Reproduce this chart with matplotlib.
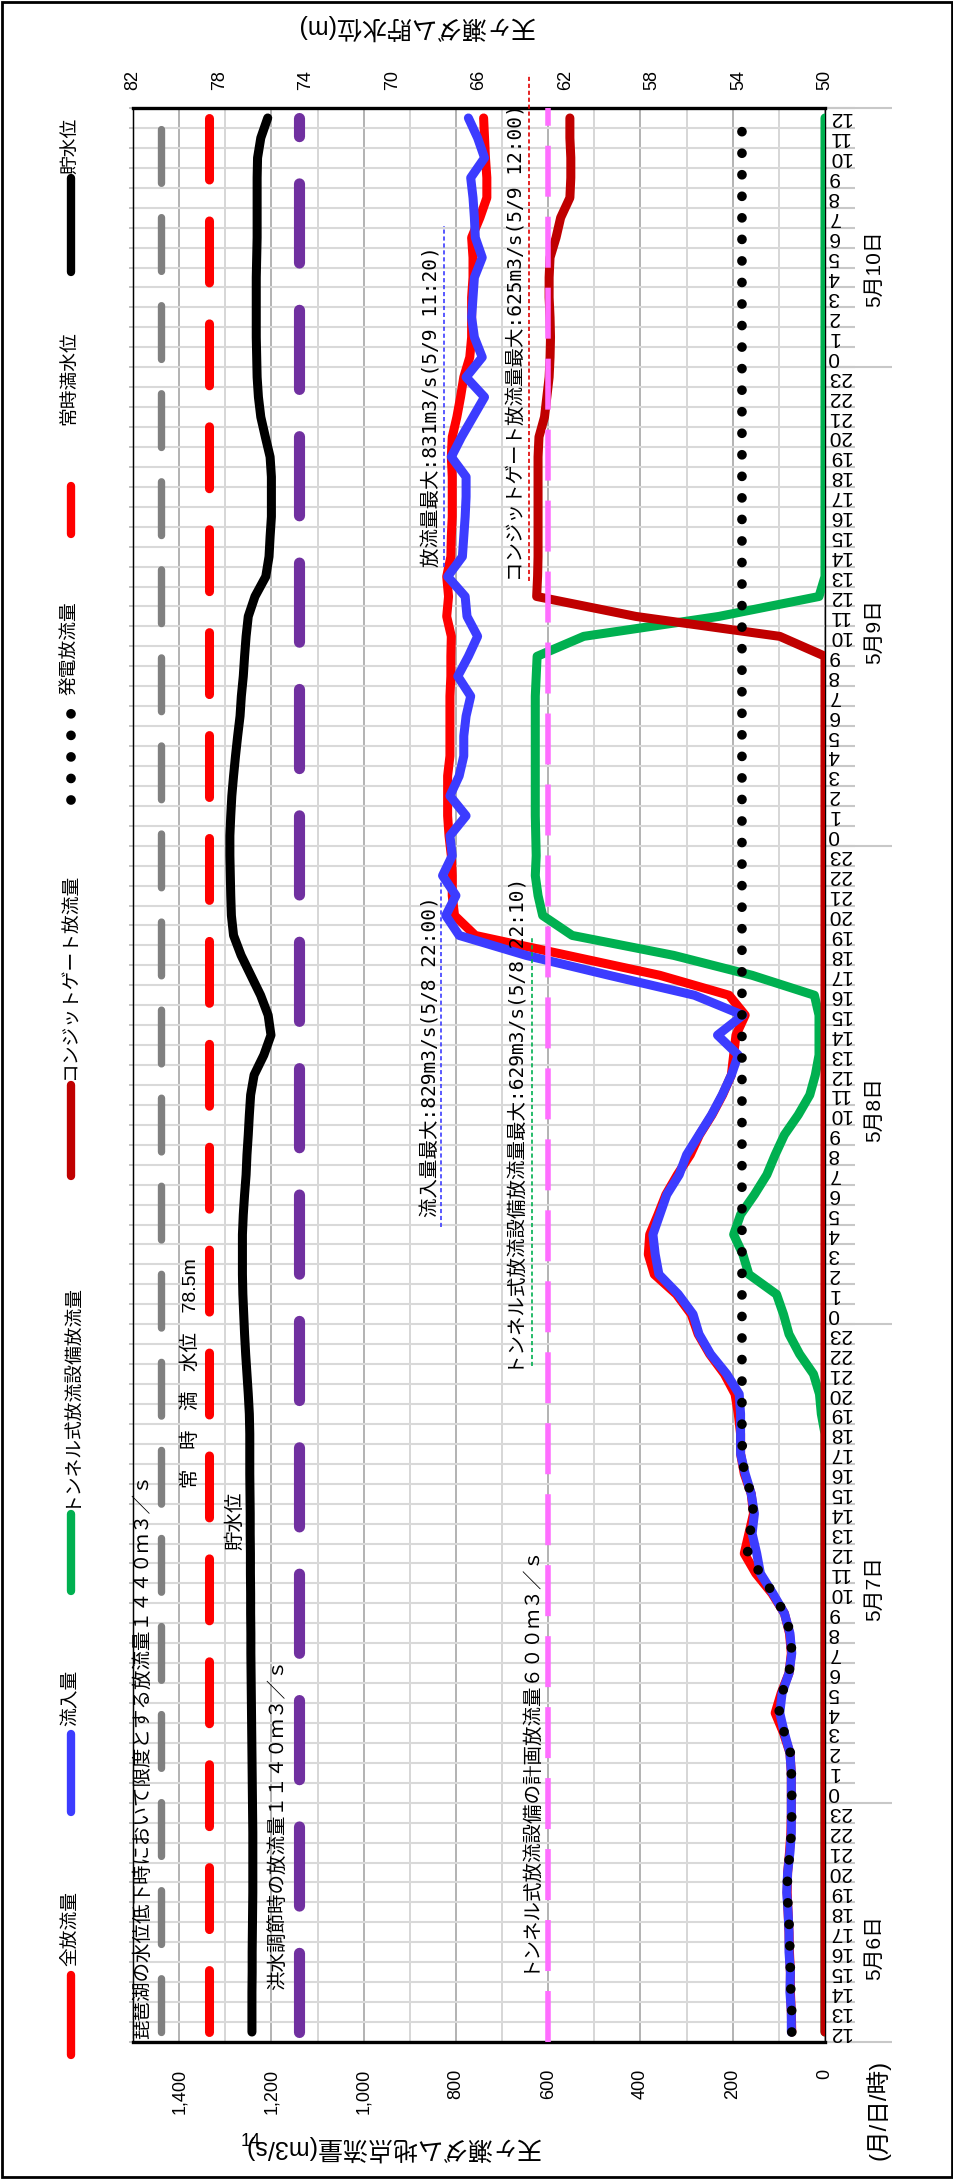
import numpy as np
import matplotlib
matplotlib.use('Agg')
import matplotlib.pyplot as plt
from matplotlib.lines import Line2D
from matplotlib.patches import Rectangle

plt.rcParams['font.family'] = ['Liberation Sans', 'Noto Sans CJK JP']
plt.rcParams['lines.scale_dashes'] = False

W, H, DPI = 954, 2179, 100

# time axis: hourly categories from 5/6 12:00 to 5/10 12:00
hours = np.arange(97)
hour_labels = [str((12 + h) % 24) for h in hours]
day_labels = ['5月6日', '5月7日', '5月8日', '5月9日', '5月10日']
day_bounds = [0, 12, 36, 60, 84, 97]

# 全放流量 (m3/s)
total = [72, 73, 75, 75, 77, 78, 80, 82, 81, 77, 74, 73, 73, 73, 76,
         90, 108, 95, 78, 73, 77, 88, 115, 150, 175, 165, 155, 160, 175, 183, 183,
         188, 195, 218, 250, 275, 290, 322, 370, 383, 380, 362, 345, 320, 292, 272,
         245, 222, 203, 198, 193,
         173, 208, 358, 558, 758, 803, 808, 808, 810, 815, 818, 818, 818,
         813, 813, 813, 813, 811, 811, 810, 820, 816, 820, 811, 810, 808, 808, 808,
         810, 808, 798, 790, 783, 770, 766, 766, 766, 763, 763, 766, 748, 733, 733,
         736, 738, 740]
# 流入量
inflow = [73, 73, 76, 75, 78, 78, 80, 83, 81, 76, 73, 73, 73, 73, 76,
          88, 98, 93, 78, 72, 76, 88, 113, 140, 148, 158, 153, 160, 173, 183, 183,
          183, 186, 213, 248, 273, 286, 318, 360, 368, 373, 358, 343, 316, 300, 273,
          246, 223, 203, 188, 233,
          178, 283, 468, 648, 793, 822, 800, 829, 808, 813, 778, 813, 793,
          783, 783, 778, 768, 796, 773, 753, 776, 780, 818, 786, 783, 780, 778, 778,
          810, 788, 763, 738, 778, 743, 760, 766, 763, 760, 743, 758, 760, 763, 768,
          738, 753, 773]
# トンネル式放流設備放流量
tunnel = [0] * 31 + [8, 12, 25, 55, 78, 90, 105, 165, 178, 198, 183, 153, 126, 108,
                     88, 58, 33, 21, 13, 13,
                     13, 23, 158, 328, 548, 612, 622, 628, 626, 627, 628, 628, 628,
                     628, 628, 628, 628, 626, 624, 523, 230, 13] + [0] * 24
# コンジットゲート放流量
conduit = [0] * 70 + [98, 410, 625, 623, 622, 622, 622, 622, 622, 622, 620, 608, 603,
                      598, 596, 595, 596, 598, 598, 596, 583, 573, 553, 551, 551, 553, 553]
# 発電放流量
power = [72, 72, 74, 75, 76, 77, 79, 82, 81, 76, 73, 72, 72, 73, 75,
         88, 100, 93, 78, 72, 75, 88, 113, 140, 168, 163, 155, 160,
         175, 179] + [180] * 67
# 貯水位 (m)
level = [76.50, 76.50, 76.50, 76.49, 76.49, 76.48, 76.47, 76.46, 76.46, 76.46, 76.46,
         76.47, 76.48, 76.49, 76.50, 76.51, 76.52, 76.53, 76.54, 76.55, 76.55, 76.56,
         76.56, 76.57, 76.57, 76.58, 76.58, 76.59, 76.60, 76.60, 76.60,
         76.62, 76.67, 76.73, 76.79, 76.84, 76.88, 76.92, 76.94, 76.94, 76.94, 76.90,
         76.84, 76.77, 76.73, 76.67, 76.62, 76.56, 76.40, 75.95, 75.62, 75.75, 76.10,
         76.55, 77.00, 77.35, 77.45, 77.48, 77.50, 77.52, 77.52, 77.48, 77.43, 77.35,
         77.26, 77.16, 77.05, 76.99, 76.90, 76.84, 76.77, 76.67, 76.36, 75.86, 75.71,
         75.66, 75.60, 75.60, 75.60, 75.66, 75.88, 76.09, 76.20, 76.26, 76.28, 76.30,
         76.30, 76.30, 76.30, 76.28, 76.26, 76.26, 76.26, 76.26, 76.24, 76.09, 75.77]

LIMIT_BIWA = 1440     # 琵琶湖の水位低下時において限度とする放流量
LIMIT_FLOOD = 1140    # 洪水調節時の放流量
TUNNEL_PLAN = 600     # トンネル式放流設備の計画放流量
NORMAL_LEVEL = 78.5   # 常時満水位

flow_ticks = list(range(0, 1401, 200))
level_ticks = [82, 78, 74, 70, 66, 62, 58, 54, 50]

y = hours + 0.5


def fx(px):
    return px / W


def fy(py):
    return 1 - py / H


fig = plt.figure(figsize=(W / DPI, H / DPI), dpi=DPI)
ax = fig.add_axes([fx(133), fy(2042), fx(825) - fx(133), fy(108) - fy(2042)])
ax.set_xlim(1500, 0)
ax.set_ylim(0, 97)

# flow axis (bottom)
ax.set_xticks(flow_ticks)
ax.set_xticklabels([f'{v:,}' for v in flow_ticks])
ax.set_xticks(list(range(100, 1500, 200)), minor=True)
ax.tick_params(axis='x', which='both', length=0, pad=19, labelsize=13, labelrotation=90)
ax.grid(axis='x', which='major', color='#A6A6A6', lw=1.2)
ax.grid(axis='x', which='minor', color='#D0D0D0', lw=1.2)

# time axis (right side)
ax.set_yticks(np.arange(98))
ax.set_yticks(y, minor=True)
ax.set_yticklabels(hour_labels, minor=True)
ax.set_yticklabels([])
ax.tick_params(axis='y', which='major', left=False, right=True, length=21.6, width=1.5,
               color='#C8C8C8', labelleft=False, labelright=False)
ax.tick_params(axis='y', which='minor', left=False, right=True, length=0,
               labelleft=False, labelright=True, pad=2, labelsize=15, labelrotation=180)
for lab in ax.get_yticklabels(minor=True):
    lab.set_va('center')
ax.grid(axis='y', which='major', color='#D9D9D9', lw=1.5)

secr = ax.secondary_yaxis('right')
secr.set_yticks(day_bounds)
secr.set_yticklabels([])
secr.set_yticks([(a + b) / 2 for a, b in zip(day_bounds[:-1], day_bounds[1:])], minor=True)
secr.set_yticklabels(day_labels, minor=True)
secr.tick_params(which='major', length=48, width=1.5, color='#C8C8C8')
secr.tick_params(which='minor', length=0, pad=29, labelsize=15, labelrotation=90)
secr.spines['right'].set_visible(False)

secl = ax.secondary_yaxis('left')
secl.set_yticks(np.arange(98))
secl.set_yticklabels([])
secl.tick_params(length=3, width=1.2, color='#BBBBBB')

for s in ['top', 'bottom']:
    ax.spines[s].set_linewidth(2.4)
for s in ['left', 'right']:
    ax.spines[s].set_linewidth(1)

# series
lw = 6.5
kw = dict(lw=lw, solid_joinstyle='round', solid_capstyle='round')
ax.plot(total, y, color='#FF0000', zorder=3, **kw)
ax.plot(inflow, y, color='#3C3CFF', zorder=3.1, **kw)
ax.plot(tunnel, y, color='#00B050', zorder=3.2, **kw)
ax.plot(conduit, y, color='#C00000', zorder=3.3, **kw)
ax.plot(power, y, color='black', lw=7, dashes=(0.01, 15.5), dash_capstyle='round', zorder=3.4)

ax.plot([LIMIT_BIWA] * len(y), y, color='#808080', lw=5.3, dashes=(38.7, 24.7),
        dash_capstyle='round', zorder=2.5)
ax.plot([LIMIT_FLOOD] * len(y), y, color='#7030A0', lw=8, dashes=(57, 34),
        dash_capstyle='round', zorder=2.5)
ax.axvline(TUNNEL_PLAN, color='#FF6EFF', lw=4, dashes=(36.7, 14.4), zorder=5)

# water level on the top axis
axl = ax.twiny()
axl.set_xlim(82, 50)
axl.set_xticks(level_ticks)
axl.tick_params(axis='x', length=0, pad=13, labelsize=13, labelrotation=90)
for s in axl.spines.values():
    s.set_visible(False)
axl.plot([NORMAL_LEVEL] * len(y), y, color='#FF0000', lw=6.5, dashes=(44.6, 29.5),
         dash_capstyle='round')
axl.plot(level, y, color='black', **kw)

# annotations inside the plot
mono = ['DejaVu Sans Mono', 'Noto Sans CJK JP']
notes = [
    ('琵琶湖の水位低下時において限度とする放流量１４４０ｍ３／ｓ', 1459, 0.15, None),
    ('洪水調節時の放流量１１４０ｍ３／ｓ', 1166, 2.6, None),
    ('トンネル式放流設備の計画放流量６００ｍ３／ｓ', 623, 3.5, None),
    ('常　時　満　水位　78.5m', 1354, 27.8, None),
    ('貯水位', 1259, 24.7, None),
    ('流入量最大:829m3/s(5/8 22:00)', 834, 41.4, mono),
    ('トンネル式放流設備放流量最大:629m3/s(5/8 22:10)', 642, 33.5, mono),
    ('放流量最大:831m3/s(5/9 11:20)', 831, 74.0, mono),
    ('コンジットゲート放流量最大:625m3/s(5/9 12:00)', 647, 73.3, mono),
]
for txt, xv, yv, fam in notes:
    extra = {'family': fam} if fam else {}
    ax.text(xv, yv, txt, rotation=90, ha='right', va='bottom', fontsize=14, zorder=6, **extra)

underlines = [
    (826, 74.0, 91.1, '#3C3CFF'),
    (832, 40.9, 58.6, '#3C3CFF'),
    (636, 33.9, 55.4, '#00B050'),
    (642, 73.3, 98.7, '#E00000'),
]
for xv, y0, y1, c in underlines:
    ax.plot([xv, xv], [y0, y1], color=c, lw=1.2, dashes=(3, 2), clip_on=False, zorder=6)

# legend (drawn along the left edge)
legend_items = [
    ('全放流量', '#FF0000', 'solid', 2055, 1975, 1966),
    ('流入量', '#3C3CFF', 'solid', 1812, 1734, 1726),
    ('トンネル式放流設備放流量', '#00B050', 'solid', 1591, 1514, 1507),
    ('コンジットゲート放流量', '#C00000', 'solid', 1176, 1085, 1080),
    ('発電放流量', 'black', 'dots', 800, 708, 695),
    ('常時満水位', '#FF0000', 'solid', 534, 486, 425),
    ('貯水位', 'black', 'solid', 272, 178, 174),
]
LX = 71
for name, c, style, m0, m1, t0 in legend_items:
    if style == 'dots':
        ln = Line2D([fx(LX)] * 2, [fy(m0), fy(m1)], transform=fig.transFigure, color=c,
                    lw=7, dashes=(0.01, 15.5), dash_capstyle='round')
    else:
        ln = Line2D([fx(LX)] * 2, [fy(m0), fy(m1)], transform=fig.transFigure, color=c,
                    lw=6, solid_capstyle='round')
    fig.add_artist(ln)
    fig.text(fx(LX), fy(t0), name, rotation=90, ha='center', va='bottom', fontsize=13.5)

# axis titles
fig.text(fx(415), fy(27), '天ヶ瀬ダム貯水位(m)', rotation=180, ha='center', va='center', fontsize=18)
fig.text(fx(392), fy(2148), '天ヶ瀬ダム地点流量(m3/s)', rotation=180, ha='center', va='center',
         fontsize=18)
fig.text(fx(251), fy(2141), '14', ha='center', va='center', fontsize=13)
fig.text(fx(878), fy(2110), '(月/日/時)', rotation=90, ha='center', va='center', fontsize=17)

fig.add_artist(Rectangle((0.002, 0.001), 0.996, 0.998, fill=False, lw=2, color='black',
                         transform=fig.transFigure))

fig.savefig('out.png', dpi=DPI)
